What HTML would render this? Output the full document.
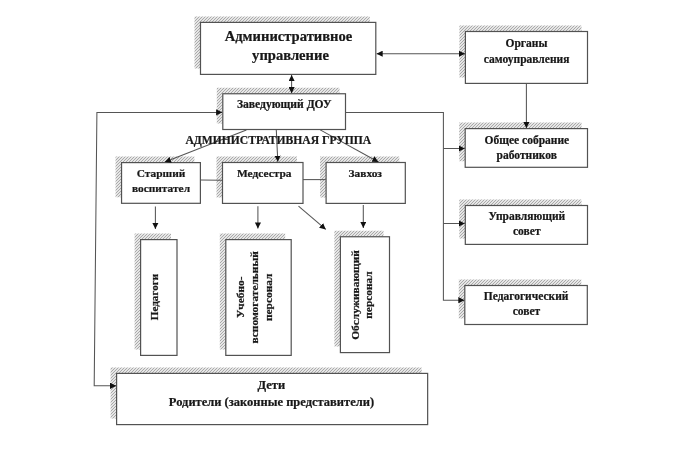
<!DOCTYPE html>
<html><head><meta charset="utf-8"><style>
html,body{margin:0;padding:0;background:#fff;}
body{width:680px;height:474px;overflow:hidden;position:relative;}
svg{position:absolute;left:0;top:0;filter:grayscale(1) blur(0.3px);}
text{font-family:"Liberation Serif",serif;font-weight:bold;fill:#181818;stroke:#181818;stroke-width:0.22px;}
</style></head><body>
<svg width="680" height="474" viewBox="0 0 680 474">
<defs>
<pattern id="h" patternUnits="userSpaceOnUse" width="3" height="3">
<rect width="3" height="3" fill="#fff"/>
<path d="M-1,1 L1,-1 M0,3 L3,0 M2,4 L4,2" stroke="#a4a4a4" stroke-width="1.05"/>
</pattern>
<marker id="a" viewBox="0 0 10 9" refX="10" refY="4.5" preserveAspectRatio="none" markerWidth="6.2" markerHeight="6.2" markerUnits="userSpaceOnUse" orient="auto-start-reverse">
<path d="M0,0 L10,4.5 L0,9 z" fill="#111"/>
</marker>
</defs>

<path d="M194.50,16.40 H369.80 V22.40 H200.50 V68.40 H194.50 Z" fill="url(#h)"/>
<path d="M459.40,25.50 H581.50 V31.50 H465.40 V77.40 H459.40 Z" fill="url(#h)"/>
<path d="M216.80,87.75 H339.50 V93.75 H222.80 V123.50 H216.80 Z" fill="url(#h)"/>
<path d="M459.20,122.60 H581.50 V128.60 H465.20 V161.30 H459.20 Z" fill="url(#h)"/>
<path d="M459.30,199.50 H581.50 V205.50 H465.30 V238.40 H459.30 Z" fill="url(#h)"/>
<path d="M458.80,279.50 H581.30 V285.50 H464.80 V318.50 H458.80 Z" fill="url(#h)"/>
<path d="M115.55,156.60 H194.40 V162.60 H121.55 V197.30 H115.55 Z" fill="url(#h)"/>
<path d="M216.50,156.50 H297.00 V162.50 H222.50 V197.40 H216.50 Z" fill="url(#h)"/>
<path d="M320.10,156.50 H399.30 V162.50 H326.10 V197.40 H320.10 Z" fill="url(#h)"/>
<path d="M134.60,233.60 H171.00 V239.60 H140.60 V349.40 H134.60 Z" fill="url(#h)"/>
<path d="M219.80,233.60 H285.20 V239.60 H225.80 V349.40 H219.80 Z" fill="url(#h)"/>
<path d="M334.40,230.75 H383.50 V236.75 H340.40 V346.60 H334.40 Z" fill="url(#h)"/>
<path d="M110.60,367.40 H421.65 V373.40 H116.60 V418.60 H110.60 Z" fill="url(#h)"/>
<rect x="200.5" y="22.4" width="175.30" height="52.00" fill="#fff" stroke="#525252" stroke-width="1.2"/>
<rect x="465.4" y="31.5" width="122.10" height="51.90" fill="#fff" stroke="#525252" stroke-width="1.2"/>
<rect x="222.8" y="93.75" width="122.70" height="35.75" fill="#fff" stroke="#525252" stroke-width="1.2"/>
<rect x="465.2" y="128.6" width="122.30" height="38.70" fill="#fff" stroke="#525252" stroke-width="1.2"/>
<rect x="465.3" y="205.5" width="122.20" height="38.90" fill="#fff" stroke="#525252" stroke-width="1.2"/>
<rect x="464.8" y="285.5" width="122.50" height="39.00" fill="#fff" stroke="#525252" stroke-width="1.2"/>
<rect x="121.55" y="162.6" width="78.85" height="40.70" fill="#fff" stroke="#525252" stroke-width="1.2"/>
<rect x="222.5" y="162.5" width="80.50" height="40.90" fill="#fff" stroke="#525252" stroke-width="1.2"/>
<rect x="326.1" y="162.5" width="79.20" height="40.90" fill="#fff" stroke="#525252" stroke-width="1.2"/>
<rect x="140.6" y="239.6" width="36.40" height="115.80" fill="#fff" stroke="#525252" stroke-width="1.2"/>
<rect x="225.8" y="239.6" width="65.40" height="115.80" fill="#fff" stroke="#525252" stroke-width="1.2"/>
<rect x="340.4" y="236.75" width="49.10" height="115.85" fill="#fff" stroke="#525252" stroke-width="1.2"/>
<rect x="116.6" y="373.4" width="311.05" height="51.20" fill="#fff" stroke="#525252" stroke-width="1.2"/>
<path d="M376.5,53.75 L465,53.75" stroke="#555555" stroke-width="1.05" fill="none" marker-start="url(#a)" marker-end="url(#a)"/>
<path d="M291.6,75 L291.6,93.3" stroke="#555555" stroke-width="1.05" fill="none" marker-start="url(#a)" marker-end="url(#a)"/>
<path d="M526.4,83.4 L526.4,128.2" stroke="#555555" stroke-width="1.05" fill="none" marker-end="url(#a)"/>
<path d="M345.5,112.4 L443.4,112.4 L443.4,300.2 L464.5,300.2" stroke="#555555" stroke-width="1.05" fill="none" marker-end="url(#a)"/>
<path d="M443.4,148.5 L464.8,148.5" stroke="#555555" stroke-width="1.05" fill="none" marker-end="url(#a)"/>
<path d="M443.4,223.5 L464.8,223.5" stroke="#555555" stroke-width="1.05" fill="none" marker-end="url(#a)"/>
<path d="M222.3,112.4 L96.9,112.4 L94.2,385.8 L116.2,385.8" stroke="#555555" stroke-width="1.05" fill="none" marker-start="url(#a)" marker-end="url(#a)"/>
<path d="M246.4,130 L164.8,162.1" stroke="#555555" stroke-width="1.05" fill="none" marker-end="url(#a)"/>
<path d="M276.3,130 L277.8,161.8" stroke="#555555" stroke-width="1.05" fill="none" marker-end="url(#a)"/>
<path d="M320.2,129.9 L378.4,162" stroke="#555555" stroke-width="1.05" fill="none" marker-end="url(#a)"/>
<path d="M200.4,180 L222.3,180.2" stroke="#555555" stroke-width="1.05" fill="none"/>
<path d="M303,179.6 L325.8,179.6" stroke="#555555" stroke-width="1.05" fill="none"/>
<path d="M155.4,206.5 L155.4,229" stroke="#555555" stroke-width="1.05" fill="none" marker-end="url(#a)"/>
<path d="M257.9,206.2 L257.9,228.6" stroke="#555555" stroke-width="1.05" fill="none" marker-end="url(#a)"/>
<path d="M298.5,206.2 L325.8,229.4" stroke="#555555" stroke-width="1.05" fill="none" marker-end="url(#a)"/>
<path d="M363.3,205.1 L363.3,227.9" stroke="#555555" stroke-width="1.05" fill="none" marker-end="url(#a)"/>
<text x="288.5" y="40.6" text-anchor="middle" font-size="14.6">Административное</text>
<text x="290.5" y="59.7" text-anchor="middle" font-size="14.6">управление</text>
<text x="284.2" y="108.4" text-anchor="middle" font-size="11.6">Заведующий ДОУ</text>
<text x="526.5" y="47.1" text-anchor="middle" font-size="11.5">Органы</text>
<text x="526.6" y="62.6" text-anchor="middle" font-size="11.5">самоуправления</text>
<text x="526.9" y="144.3" text-anchor="middle" font-size="11.5">Общее собрание</text>
<text x="526.75" y="159.4" text-anchor="middle" font-size="11.5">работников</text>
<text x="526.85" y="220.2" text-anchor="middle" font-size="11.5">Управляющий</text>
<text x="526.8" y="234.9" text-anchor="middle" font-size="11.5">совет</text>
<text x="526.1" y="300.2" text-anchor="middle" font-size="11.5">Педагогический</text>
<text x="526.4" y="314.9" text-anchor="middle" font-size="11.5">совет</text>
<text x="161" y="176.9" text-anchor="middle" font-size="11.4">Старший</text>
<text x="161" y="191.8" text-anchor="middle" font-size="11.4">воспитател</text>
<text x="264.25" y="177.3" text-anchor="middle" font-size="11.4">Медсестра</text>
<text x="365.25" y="177.3" text-anchor="middle" font-size="11.4">Завхоз</text>
<text x="278.3" y="143.8" text-anchor="middle" font-size="11.6">АДМИНИСТРАТИВНАЯ ГРУППА</text>
<text transform="translate(157.9,297) rotate(-90)" text-anchor="middle" font-size="11.1">Педагоги</text>
<text transform="translate(243.9,297.3) rotate(-90)" text-anchor="middle" font-size="11.4">Учебно-</text>
<text transform="translate(257.8,297.3) rotate(-90)" text-anchor="middle" font-size="11.4">вспомогательный</text>
<text transform="translate(271.8,297.3) rotate(-90)" text-anchor="middle" font-size="11.4">персонал</text>
<text transform="translate(359,295) rotate(-90)" text-anchor="middle" font-size="11.4">Обслуживающий</text>
<text transform="translate(371.6,295) rotate(-90)" text-anchor="middle" font-size="11.4">персонал</text>
<text x="271.3" y="389.4" text-anchor="middle" font-size="12.5">Дети</text>
<text x="271.5" y="406" text-anchor="middle" font-size="12.5">Родители (законные представители)</text>
</svg></body></html>
